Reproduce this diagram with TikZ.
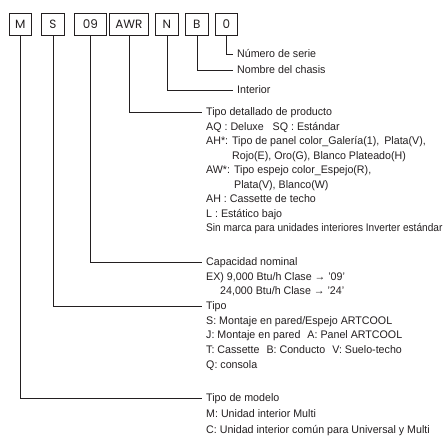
\documentclass[tikz,border=0pt]{standalone}
\usepackage{fontspec}
\setmainfont{Liberation Sans}[FakeStretch=0.97]
\newfontfamily\narrowfont{Liberation Sans}[FakeStretch=0.92]
\newfontfamily\boxfont{Poppins}
\definecolor{ink}{HTML}{231F20}
\begin{document}
\begin{tikzpicture}[x=1pt,y=-1pt,
  codebox/.style={draw=ink,line width=0.8pt,minimum height=22pt,inner sep=0pt,anchor=north west,font=\boxfont\fontsize{12}{13}\selectfont,text=ink},
  lbl/.style={anchor=west,inner xsep=4pt,inner ysep=0pt,text height=1.5ex,text depth=0.3ex,font=\fontsize{11}{13}\selectfont,text=ink},
  conn/.style={draw=ink,line width=0.8pt}]
\useasboundingbox (0,0) rectangle (445,437);
% code boxes
\node[codebox,minimum width=22pt] (bM) at (9,13) {M};
\node[codebox,minimum width=23pt] (bS) at (41,13) {S};
\node[codebox,minimum width=32pt] (b09) at (74,13) {09};
\node[codebox,minimum width=39pt] (bAWR) at (109,13) {AWR};
\node[codebox,minimum width=23pt] (bN) at (155,13) {N};
\node[codebox,minimum width=23pt] (bB) at (185,13) {B};
\node[codebox,minimum width=22pt] (b0) at (215,13) {0};
% headings
\node[lbl] (ns) at (233,54) {Número de serie};
\node[lbl] (nc) at (233,70) {Nombre del chasis};
\node[lbl] (ni) at (233,90) {Interior};
\node[lbl] (td) at (202,112.5) {Tipo detallado de producto};
\node[lbl] (td1) at (202,127) {AQ : Deluxe\hspace{9pt}SQ : Estándar};
\node[lbl] (td2) at (202,141.5) {AH*: Tipo de panel color\_Galería(1),\hspace{5pt}Plata(V),};
\node[lbl] (td3) at (228,156) {Rojo(E), Oro(G), Blanco Plateado(H)};
\node[lbl] (td4) at (202,170.5) {AW*: Tipo espejo color\_Espejo(R),};
\node[lbl] (td5) at (230,185) {Plata(V), Blanco(W)};
\node[lbl] (td6) at (202,199.5) {AH : Cassette de techo};
\node[lbl] (td7) at (202,214) {L : Estático bajo};
\node[lbl,font=\narrowfont\fontsize{11}{13}\selectfont] (td8) at (202,228) {Sin marca para unidades interiores Inverter estándar};
\node[lbl] (cn) at (202,262) {Capacidad nominal};
\node[lbl] (cn1) at (202,277) {EX) 9,000 Btu/h Clase → ’09’};
\node[lbl] (cn2) at (216,291.5) {24,000 Btu/h Clase → ’24’};
\node[lbl] (tp) at (202,306) {Tipo};
\node[lbl] (tp1) at (202,321) {S: Montaje en pared/Espejo ARTCOOL};
\node[lbl] (tp2) at (202,335.5) {J: Montaje en pared\hspace{7pt}A: Panel ARTCOOL};
\node[lbl] (tp3) at (202,350) {T: Cassette\hspace{7pt}B: Conducto\hspace{7pt}V: Suelo-techo};
\node[lbl] (tp4) at (202,365) {Q: consola};
\node[lbl] (tm) at (202,398) {Tipo de modelo};
\node[lbl] (tm1) at (202,414) {M: Unidad interior Multi};
\node[lbl] (tm2) at (202,430) {C: Unidad interior común para Universal y Multi};
% connectors
\draw[conn] (b0.south) |- (ns.west);
\draw[conn] (bB.south) |- (nc.west);
\draw[conn] (bN.south) |- (ni.west);
\draw[conn] (bAWR.south) |- (td.west);
\draw[conn] (b09.south) |- (cn.west);
\draw[conn] (bS.south) |- (tp.west);
\draw[conn] (bM.south) |- (tm.west);
\end{tikzpicture}
\end{document}
